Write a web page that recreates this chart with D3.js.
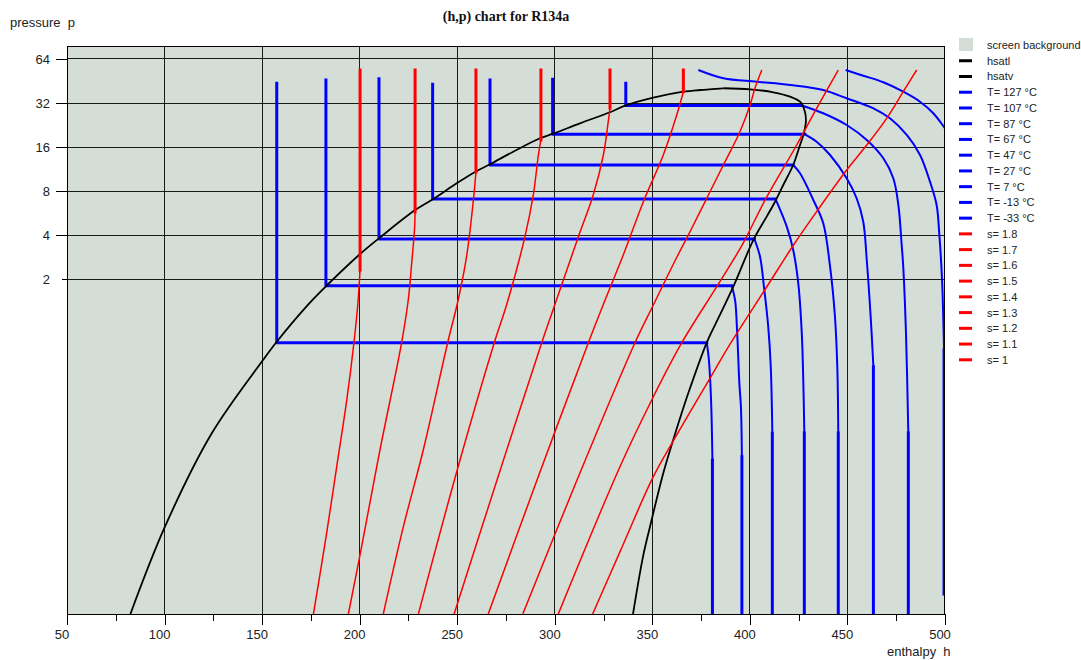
<!DOCTYPE html>
<html><head><meta charset="utf-8">
<script src="https://cdn.jsdelivr.net/npm/d3@7"></script>
<style>
html,body{margin:0;padding:0;background:#fff;}
svg{display:block;}
</style></head><body>
<svg id="chart" width="1081" height="660"></svg>
<script>
// ---------------- data (enthalpy h in kJ/kg, pressure p in bar) ----------------
const hDomain = [50, 500];
const pDomain = [0.0103, 78.5];
const hTicks = [50, 100, 150, 200, 250, 300, 350, 400, 450, 500];
const hMinorTicks = [75, 125, 175, 225, 275, 325, 375, 425, 475];
const pTicks = [64, 32, 16, 8, 4, 2];

const hsatl = [[82.5,0.0103],[100.2,0.0407],[124.2,0.177],[150.1,0.552],[157.5,0.748],[173.7,1.347],[183.1,1.811],[200.2,2.973],[210.9,3.904],[228.4,5.94],[237.7,7.07],[249.7,9.04],[260.0,10.98],[266.8,12.2],[278.7,14.88],[292.4,18.37],[299.2,19.75],[312.9,23.26],[328.3,27.66],[336.0,30.68],[350.5,34.8],[365.9,38.24],[374.4,39.28],[386.4,40.36]];
const hsatv = [[386.4,40.36],[400.1,39.72],[412.0,37.9],[420.6,35.36],[425.7,32.67],[428.2,27.92],[428.7,23.85],[427.4,19.35],[425.7,16.53],[422.2,12.07],[417.1,8.81],[412.9,6.77],[408.6,5.35],[401.8,3.71],[391.5,1.778],[384.2,1.108],[378.0,0.744],[368.4,0.332],[360.7,0.1593],[355.6,0.0943],[348.8,0.0407],[345.2,0.0253],[340.1,0.0103]];

const tempValues = [127, 107, 87, 67, 47, 27, 7, -13, -33];
const T127 = [[449.1,53.8],[458.1,49.2],[468.4,44.35],[478.6,38.24],[487.2,32.67],[494.0,27.23],[500.0,21.5],[503.0,19.0]];
const T107 = [[373.6,53.8],[386.4,47.24],[403.5,44.75],[420.6,42.49],[437.6,39.28],[449.6,34.47],[463.3,29.44],[471.8,25.16],[480.4,19.35],[487.2,14.12],[492.3,9.28],[495.7,6.43],[497.1,4.01],[498.5,1.975],[499.5,0.656],[499.5,0.0141]];
const T87 = [[336.4,43.65],[336.4,30.8],[426.6,30.8],[437.6,27.23],[449.6,22.64],[459.9,17.89],[468.4,13.41],[473.5,9.79],[476.1,6.43],[477.8,3.42],[478.6,2.435],[480.0,0.857],[481.2,0.178],[481.2,0.0103]];
const T67 = [[298.9,46.5],[298.9,19.56],[428.2,19.56],[434.2,17.41],[441.1,14.12],[449.6,9.79],[454.7,7.15],[458.1,4.94],[459.9,2.706],[461.9,1.108],[463.3,0.504],[463.3,0.0103]];
const T47 = [[266.8,45.98],[266.8,12.07],[422.2,12.07],[425.7,10.59],[432.5,6.96],[437.6,4.82],[441.1,2.435],[443.6,1.108],[444.8,0.504],[445.3,0.178],[445.3,0.0103]];
const T27 = [[237.4,42.97],[237.4,7.07],[413.1,7.07],[418.9,4.57],[422.2,3.167],[424.8,1.875],[426.6,0.853],[427.4,0.389],[427.9,0.178],[427.9,0.0103]];
const T7 = [[209.9,46.95],[209.9,3.766],[402.3,3.766],[405.2,2.85],[407.2,1.778],[409.4,0.947],[410.7,0.504],[411.5,0.177],[411.5,0.0103]];
const Tm13 = [[182.7,45.98],[182.7,1.805],[390.7,1.805],[392.4,1.442],[393.5,0.853],[394.6,0.389],[395.4,0.269],[395.9,0.1224],[395.9,0.0103]];
const Tm33 = [[157.5,43.65],[157.5,0.736],[377.9,0.736],[379.0,0.56],[380.1,0.299],[380.8,0.116],[380.8,0.0103]];
const isotherms = [T127, T107, T87, T67, T47, T27, T7, Tm13, Tm33];

const entropyValues = [1.8, 1.7, 1.6, 1.5, 1.4, 1.3, 1.2, 1.1, 1];
const s18 = [[319.4,0.0103],[333.4,0.0274],[350.5,0.0894],[361.6,0.1644],[379.6,0.422],[390.3,0.736],[408.6,1.769],[422.2,3.40],[434.2,5.79],[449.6,11.15],[459.9,16.53],[470.1,25.16],[478.6,38.24],[485.5,53.8]];
const s17 = [[301.8,0.0103],[333.4,0.1045],[349.7,0.299],[365.1,0.736],[383.0,1.778],[396.0,3.42],[407.8,6.96],[424.0,16.53],[434.2,29.44],[445.3,53.8]];
const s16 = [[283.6,0.0103],[311.4,0.0848],[341.1,0.736],[350.5,1.332],[362.6,2.836],[369.3,4.22],[377.9,7.15],[386.4,12.07],[394.9,20.38],[400.1,31.02],[402.6,40.36],[406.1,53.8]];
const s15 = [[265.9,0.0103],[290.9,0.0848],[317.2,0.736],[324.9,1.347],[335.1,2.926],[345.4,6.77],[355.6,14.12],[362.5,26.5],[365.9,38.24],[365.9,53.8]];
const s14 = [[248.4,0.0103],[270.4,0.0848],[293.3,0.736],[300.1,1.347],[312.1,3.904],[319.7,7.53],[324.9,14.12],[327.4,23.85],[328.3,29.6],[328.3,53.8]];
const s13 = [[230.1,0.0103],[250.0,0.0994],[269.0,0.736],[275.4,1.347],[284.7,3.904],[289.0,7.53],[291.6,14.12],[292.9,17.89],[292.9,53.8]];
const s12 = [[212.1,0.0103],[222.4,0.0407],[232.6,0.136],[245.1,0.736],[250.6,1.464],[254.9,2.926],[258.2,6.77],[259.6,10.81],[259.6,53.8]];
const s11 = [[194.2,0.0103],[201.0,0.0297],[210.4,0.136],[221.5,0.736],[224.9,1.442],[226.8,2.706],[228.1,4.34],[228.4,5.76],[228.4,53.8]];
const s10 = [[176.3,0.0103],[183.1,0.0369],[188.2,0.104],[193.4,0.299],[197.1,0.744],[199.1,1.375],[200.2,2.31],[200.2,53.8]];
const isentropes = [s18, s17, s16, s15, s14, s13, s12, s11, s10];

// ---------------- drawing ----------------
const BG = '#d5ded6';
const BLUE = '#0000ff', RED = '#ff0000', BLACK = '#000000';
const SANS = '"Liberation Sans",Arial,sans-serif';
const SERIF = '"Liberation Serif","Times New Roman",serif';
const svg = d3.select('#chart');
const M = {left: 67, right: 945, top: 46, bottom: 614};
const x = d3.scaleLinear().domain(hDomain).range([M.left, M.right]);
const y = d3.scaleLog().base(2).domain(pDomain).range([M.bottom, M.top]);

svg.append('rect').attr('width', 1081).attr('height', 660).attr('fill', '#fff');
svg.append('rect').attr('x', M.left).attr('y', M.top)
  .attr('width', M.right - M.left).attr('height', M.bottom - M.top).attr('fill', BG);

svg.append('clipPath').attr('id', 'plotclip').append('rect')
  .attr('x', M.left).attr('y', M.top).attr('width', M.right - M.left).attr('height', M.bottom - M.top);

// grid
const grid = svg.append('g').attr('stroke', '#1a1a1a').attr('stroke-width', 1).attr('shape-rendering', 'crispEdges');
hTicks.filter(h => h > hDomain[0] && h < hDomain[1]).forEach(h => {
  grid.append('line').attr('x1', x(h)).attr('x2', x(h)).attr('y1', M.top).attr('y2', M.bottom);
});
pTicks.forEach(p => {
  grid.append('line').attr('x1', M.left).attr('x2', M.right).attr('y1', y(p)).attr('y2', y(p));
});

// split a series into straight (axis-parallel) and curved runs
function runs(pts) {
  const out = [];
  let cur = [pts[0]], kind = null;
  for (let i = 1; i < pts.length; i++) {
    const a = pts[i - 1], b = pts[i];
    const st = (a[0] === b[0] || a[1] === b[1]);
    if (kind === null || st === kind) { kind = st; cur.push(b); }
    else { out.push({straight: kind, pts: cur}); cur = [a, b]; kind = st; }
  }
  out.push({straight: kind, pts: cur});
  return out;
}
const lineStraight = d3.line().x(d => x(d[0])).y(d => y(d[1]));
const lineCurve = d3.line().x(d => x(d[0])).y(d => y(d[1])).curve(d3.curveCatmullRom.alpha(0.5));

const plot = svg.append('g').attr('clip-path', 'url(#plotclip)').attr('fill', 'none')
  .attr('stroke-linejoin', 'round');

function drawSeries(g, pts, color, wStraight, wCurve) {
  runs(pts).forEach(r => {
    g.append('path').attr('d', (r.straight ? lineStraight : lineCurve)(r.pts))
      .attr('stroke', color).attr('stroke-width', r.straight ? wStraight : wCurve)
      .attr('stroke-linecap', r.straight ? 'square' : 'butt');
  });
}
const gT = plot.append('g');
isotherms.forEach(s => drawSeries(gT, s, BLUE, 3, 2));
const gSat = plot.append('g');
drawSeries(gSat, hsatl, BLACK, 1.8, 1.8);
drawSeries(gSat, hsatv, BLACK, 1.8, 1.8);
const gS = plot.append('g');
isentropes.forEach(s => drawSeries(gS, s, RED, 3, 1.5));

// frame
svg.append('rect').attr('x', M.left + 0.5).attr('y', M.top + 0.5)
  .attr('width', M.right - M.left - 1).attr('height', M.bottom - M.top)
  .attr('fill', 'none').attr('stroke', '#000').attr('stroke-width', 1).attr('shape-rendering', 'crispEdges');

// axes
function styleAxis(g) {
  g.select('.domain').remove();
  g.selectAll('line').attr('stroke', '#000').attr('shape-rendering', 'crispEdges');
  g.selectAll('text').style('font-family', SANS)
    .style('font-size', '13px').style('fill', '#222');
}
svg.append('g').attr('transform', `translate(0,${M.bottom})`)
  .call(d3.axisBottom(x).tickValues(hTicks).tickSize(11).tickPadding(5).tickFormat(d3.format('d')))
  .call(styleAxis)
  .call(g => g.selectAll('text').attr('dx', -5.5));
svg.append('g').attr('transform', `translate(0,${M.bottom})`)
  .call(d3.axisBottom(x).tickValues(hMinorTicks).tickSize(7).tickFormat(''))
  .call(styleAxis);
svg.append('g').attr('transform', `translate(${M.left},0)`)
  .call(d3.axisLeft(y).tickValues(pTicks).tickSize(11).tickPadding(6).tickFormat(d3.format('d')))
  .call(styleAxis)
  .call(g => g.selectAll('.tick').filter(d => d === 2).select('line').attr('x2', -5));

// titles
svg.append('text').attr('x', (M.left + M.right) / 2).attr('y', 21).attr('text-anchor', 'middle')
  .style('font-family', SERIF).style('font-weight', 'bold')
  .style('font-size', '14px').style('fill', '#111').text('(h,p) chart for R134a');
svg.append('text').attr('x', 10).attr('y', 27).style('font-family', SANS).style('font-size', '13px')
  .style('fill', '#222').style('white-space', 'pre').text('pressure  p');
svg.append('text').attr('x', 887).attr('y', 656).style('font-family', SANS).style('font-size', '13px')
  .style('fill', '#222').style('white-space', 'pre').text('enthalpy  h');

// legend
const legendItems = [{label: 'screen background', kind: 'rect', color: BG},
  {label: 'hsatl', color: BLACK}, {label: 'hsatv', color: BLACK}]
  .concat(tempValues.map(t => ({label: `T= ${t} °C`, color: BLUE})))
  .concat(entropyValues.map(s => ({label: `s= ${s}`, color: RED})));
const lg = svg.append('g');
legendItems.forEach((it, i) => {
  const cy = 45 + i * 15.74;
  if (it.kind === 'rect') {
    lg.append('rect').attr('x', 959).attr('y', cy - 7).attr('width', 14).attr('height', 13).attr('fill', it.color);
  } else {
    lg.append('line').attr('x1', 959).attr('x2', 972).attr('y1', cy).attr('y2', cy)
      .attr('stroke', it.color).attr('stroke-width', 3);
  }
  lg.append('text').attr('x', 987).attr('y', cy + 4).style('font-family', SANS)
    .style('font-size', '11px').style('fill', '#222').text(it.label);
});
</script>
</body></html>
